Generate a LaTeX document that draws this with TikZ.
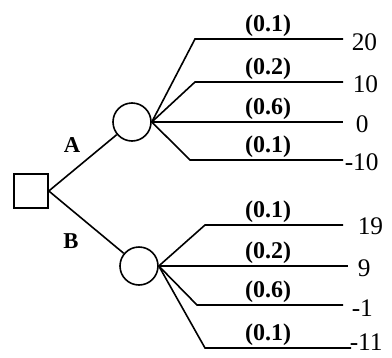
\documentclass[tikz,border=0pt]{standalone}
\usepackage{fontspec}
\setmainfont{Liberation Serif}

\tikzset{
    decbox/.style={draw, minimum size=25.5pt, inner sep=0pt},
    chance/.style={draw, circle, minimum size=28.5pt, inner sep=0pt},
    prob/.style={above, inner sep=1.2pt, font=\fontsize{18}{20}\selectfont\bfseries},
    payoff/.style={anchor=west, inner sep=0pt, font=\fontsize{19}{21}\selectfont},
    choice/.style={font=\fontsize{17}{19}\selectfont\bfseries}
}

\begin{document}
\begin{tikzpicture}[x=0.75pt, y=-0.75pt, line width=1.2pt]
        \useasboundingbox (0,0) rectangle (392,357);

        % ==== DECISION AND CHANCE NODES ====
        \node[decbox] (dec) at (31,191) {};
        \node[chance] (cA) at (132,122) {};
        \node[chance] (cB) at (139,266) {};

        % ==== CHOICES ====
        \draw (dec.east) -- (cA);
        \draw (dec.east) -- (cB);
        \node[choice] (lA) at (72,145) {A};
        \node[choice] (lB) at (71,241) {B};

        % ==== OUTCOMES OF A ====
        \foreach \y/\ex/\ee/\tx/\ty/\p/\v [count=\i] in
            {39/195/343/351/42/0.1/20, 82/195/343/352/84/0.2/10,
             122/152/343/355/124/0.6/0, 160/190/343/344/162/0.1/-10}{
            \coordinate (a\i) at (\ex,\y);
            \coordinate (ae\i) at (\ee,\y);
            \draw (cA.east) -- (a\i) -- (ae\i);
            \node[prob] (pa\i) at (268,\y) {(\p)};
            \node[payoff] (va\i) at (\tx,\ty) {\v};
        }

        % ==== OUTCOMES OF B ====
        \foreach \y/\ex/\ee/\tx/\ty/\p/\v [count=\i] in
            {225/205/343/357/226/0.1/19, 266/159/348/357/268/0.2/9,
             305/197/343/351/308/0.6/-1, 348/205/351/349/342/0.1/-11}{
            \coordinate (b\i) at (\ex,\y);
            \coordinate (be\i) at (\ee,\y);
            \draw (cB.east) -- (b\i) -- (be\i);
            \node[prob] (pb\i) at (268,\y) {(\p)};
            \node[payoff] (vb\i) at (\tx,\ty) {\v};
        }

\end{tikzpicture}
\end{document}
